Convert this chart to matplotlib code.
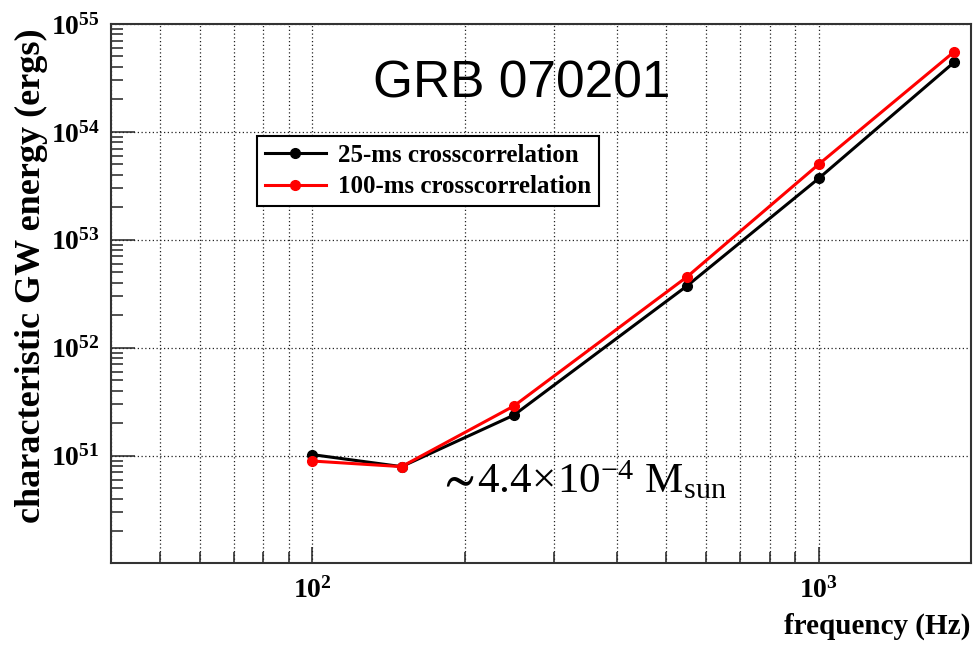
import matplotlib
matplotlib.use('Agg')
import matplotlib.pyplot as plt
from matplotlib.ticker import LogLocator, NullFormatter, LogFormatterMathtext

plt.rcParams['font.family'] = 'Liberation Serif'
plt.rcParams['font.weight'] = 'bold'
plt.rcParams['mathtext.fontset'] = 'custom'
plt.rcParams['mathtext.rm'] = 'Liberation Serif'
plt.rcParams['mathtext.it'] = 'Liberation Serif:italic'
plt.rcParams['mathtext.bf'] = 'Liberation Serif:bold'
plt.rcParams['mathtext.fallback'] = 'stix'

# values
freq = [100, 150, 250, 550, 1000, 1850]
energy_25ms = [1.02e51, 7.9e50, 2.37e51, 3.75e52, 3.7e53, 4.4e54]
energy_100ms = [8.9e50, 7.9e50, 2.88e51, 4.55e52, 5.0e53, 5.5e54]
labels = ['25-ms crosscorrelation', '100-ms crosscorrelation']

W, H = 975, 655
fig = plt.figure(figsize=(W / 100, H / 100), dpi=100)
ax = fig.add_axes([111 / W, 1 - 563 / H, (971 - 111) / W, (563 - 24) / H])

ax.plot(freq, energy_25ms, '-o', color='black', lw=2.2, ms=7, label=labels[0])
ax.plot(freq, energy_100ms, '-o', color='red', lw=2.2, ms=7, label=labels[1])

ax.set_xscale('log')
ax.set_yscale('log')
ax.set_xlim(40, 2000)
ax.set_ylim(1.01e50, 1e55)

for axis in [ax.xaxis, ax.yaxis]:
    axis.set_major_locator(LogLocator(base=10, numticks=12))
    axis.set_minor_locator(LogLocator(base=10, subs=range(2, 10), numticks=40))
    axis.set_major_formatter(LogFormatterMathtext())
    axis.set_minor_formatter(NullFormatter())

ax.tick_params(which='both', direction='in', top=False, right=False, width=1.1, color='#222')
ax.tick_params(axis='x', which='major', length=11.5, pad=10, labelsize=20)
ax.tick_params(axis='x', which='minor', length=8)
ax.tick_params(axis='y', which='major', length=17, pad=8, labelsize=20)
ax.tick_params(axis='y', which='minor', length=8.6)

gridstyle = dict(ls=(0, (1, 2)), lw=0.9, color='#222')
ax.grid(True, axis='x', which='both', **gridstyle)
ax.grid(True, axis='y', which='major', **gridstyle)

for s in ax.spines.values():
    s.set_linewidth(1.5)
    s.set_color('#333')

leg = ax.legend(loc='upper left', bbox_to_anchor=(257 / W, 1 - 136 / H),
                bbox_transform=fig.transFigure, prop={'size': 18, 'weight': 'bold'},
                frameon=True, fancybox=False, edgecolor='black', framealpha=1,
                borderpad=0.3, labelspacing=0.35, handlelength=2.45,
                handletextpad=0.5, borderaxespad=0)
leg.get_frame().set_linewidth(1.5)

fig.text(373 / W, 1 - 98 / H, 'GRB 070201', family='Liberation Sans',
         fontweight='normal', fontsize=37, ha='left', va='baseline')
fig.text(437 / W, 1 - 493 / H, r'$\sim\!\mathdefault{4.4\!\times\!10^{-4}\ M_{sun}}$',
         family='Liberation Serif', fontweight='normal', fontsize=31,
         ha='left', va='baseline')

fig.text(31 / W, 1 - 28 / H, 'characteristic GW energy (ergs)', rotation=90,
         ha='center', va='top', fontsize=26)
fig.text(970 / W, 1 - 640 / H, 'frequency (Hz)', ha='right', va='bottom', fontsize=21)

fig.savefig('out.png', dpi=100)
